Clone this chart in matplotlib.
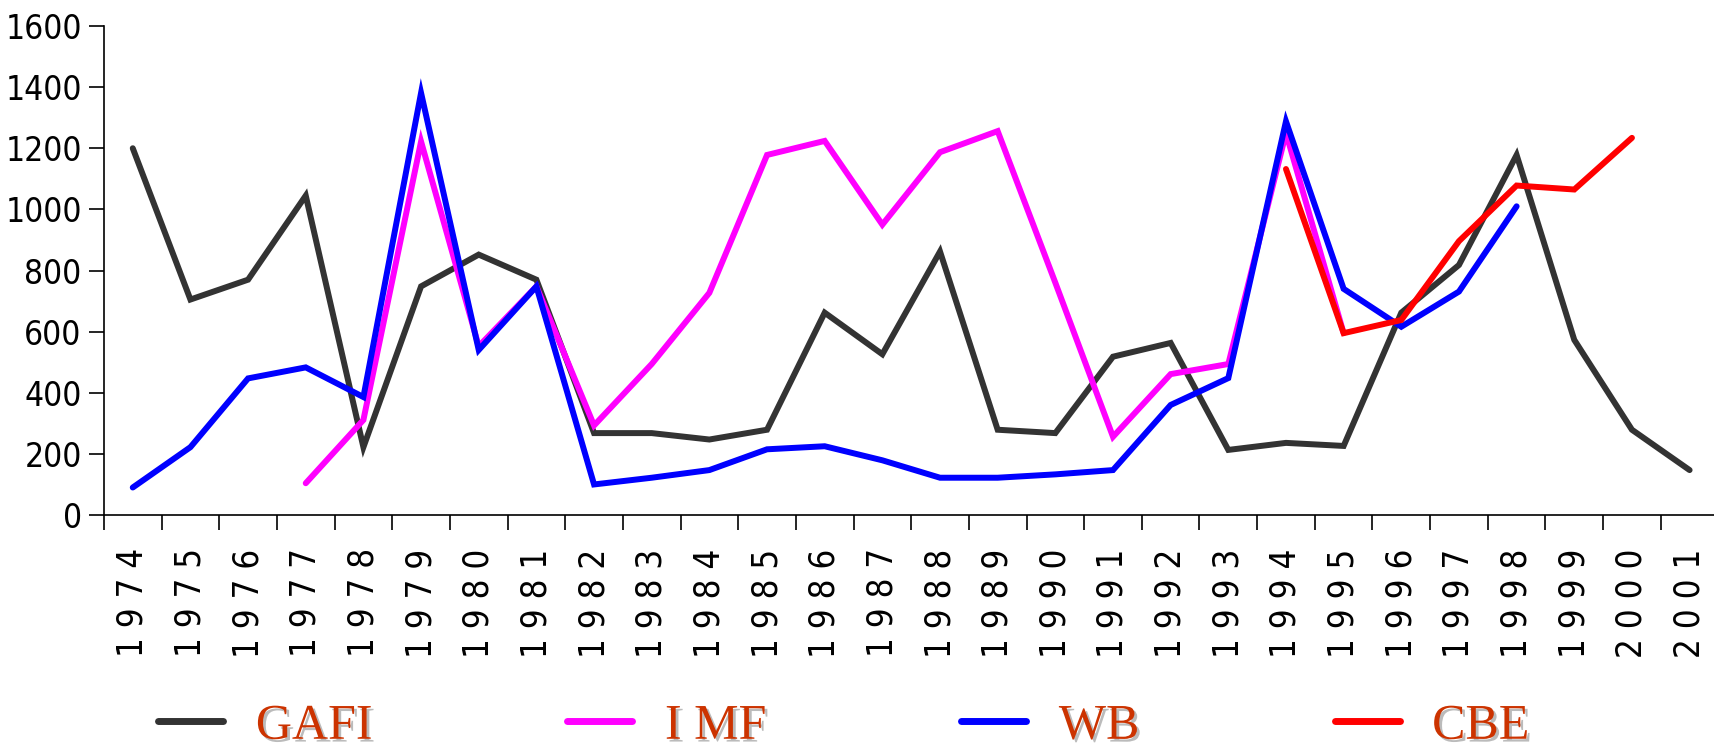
import matplotlib
matplotlib.use("Agg")
import matplotlib.pyplot as plt
import matplotlib.patheffects as pe
from matplotlib import font_manager as fm
import numpy as np

years = list(range(1974, 2002))

gafi = [1200, 705, 770, 1045, 222, 748, 852, 770, 268, 268, 247, 279, 662, 526,
        862, 279, 268, 518, 563, 213, 236, 226, 662, 818, 1178, 573, 279, 147]
# IMF starts 1977, ends 1995
imf = [None, None, None, 104, 311, 1222, 552, 748, 293, 494, 727, 1178, 1224, 950,
       1187, 1256, 760, 256, 461, 494, 1250, 595, None, None, None, None, None, None]
# WB ends 1998
wb = [90, 222, 447, 483, 386, 1381, 540, 748, 100, 122, 147, 215, 225, 179,
      122, 122, 133, 147, 360, 448, 1288, 740, 616, 731, 1010, None, None, None]
# CBE 1994-2000
cbe = [None] * 20 + [1132, 595, 638, 896, 1078, 1065, 1234, None]

series = [("GAFI", gafi, "#333333"), ("I MF", imf, "#ff00ff"),
          ("WB", wb, "#0000ff"), ("CBE", cbe, "#ff0000")]

# look for a narrow/condensed sans, else plain Liberation Sans a bit smaller
narrow_file = None
for f in fm.fontManager.ttflist:
    if ("Narrow" in f.name or f.stretch == "condensed") and f.style == "normal" \
            and f.weight in (400, "normal", "regular"):
        narrow_file = f.fname
        break
if narrow_file:
    ytick_fp = fm.FontProperties(fname=narrow_file, size=24)
    xtick_fp = fm.FontProperties(fname=narrow_file, size=25)
else:
    ytick_fp = fm.FontProperties(family="Liberation Sans", size=21)
    xtick_fp = fm.FontProperties(family="Liberation Sans", size=20)

fig = plt.figure(figsize=(17.15, 7.49), dpi=100)
ax = fig.add_axes([0.0606, 0.3124, 0.9414, 0.6529])

x = np.arange(len(years))
for name, vals, col in series:
    y = np.array([np.nan if v is None else v for v in vals], dtype=float)
    ax.plot(x, y, color=col, lw=4.3, label=name, solid_joinstyle="miter",
            solid_capstyle="round", clip_on=False)

ax.set_xlim(-0.5, len(years) - 0.5)
ax.set_ylim(0, 1600)
ax.set_yticks(range(0, 1601, 200))
ax.set_yticklabels([str(v) for v in range(0, 1601, 200)], fontproperties=ytick_fp)

# ticks at category boundaries, labels at centres
ax.set_xticks(np.arange(-0.5, len(years), 1.0))
ax.set_xticklabels([])
ax.set_xticks(x, minor=True)
ax.set_xticklabels([" ".join(str(yr)) for yr in years], minor=True,
                   rotation=90, fontproperties=xtick_fp)
ax.tick_params(axis="x", which="major", length=11, width=1.2, direction="out")
ax.tick_params(axis="x", which="minor", length=0, pad=24)
ax.tick_params(axis="y", length=11, width=1.2, direction="out", pad=5)

for s in ["top", "right"]:
    ax.spines[s].set_visible(False)
for s in ["left", "bottom"]:
    ax.spines[s].set_linewidth(1.2)

leg = fig.legend(loc="center", bbox_to_anchor=(0.492, 0.03), ncol=4, frameon=False,
                 prop={"family": "Liberation Serif", "size": 36},
                 handlelength=1.3, handletextpad=0.65, columnspacing=3.9)
for t in leg.get_texts():
    t.set_color("#cc3300")
    t.set_path_effects([pe.SimplePatchShadow(offset=(2, -2), shadow_rgbFace="#bbbbbb",
                                             alpha=1.0), pe.Normal()])
for h in leg.legend_handles:
    h.set_linewidth(5)

fig.savefig("out.png", dpi=100)
